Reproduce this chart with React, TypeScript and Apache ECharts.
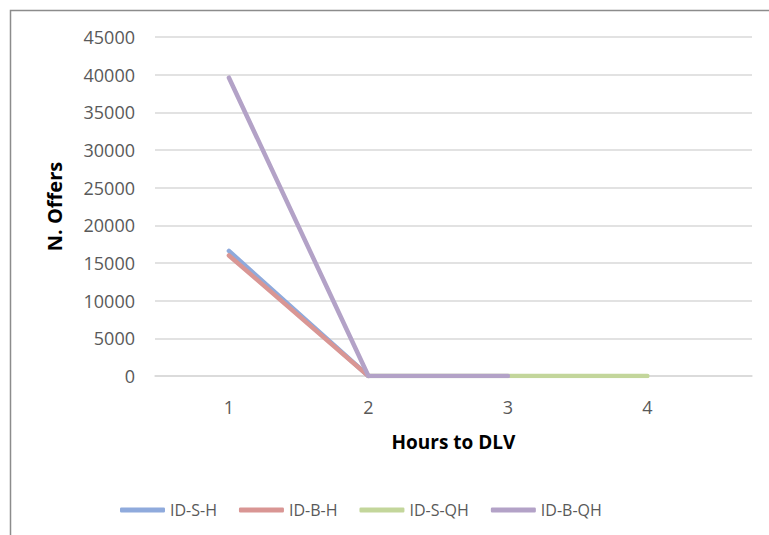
import React, { useEffect, useRef } from "react";
import * as echarts from "echarts";

const hours = [1, 2, 3, 4];
const seriesNames = ["ID-S-H", "ID-B-H", "ID-S-QH", "ID-B-QH"];
const idSH: (number | null)[] = [16600, 0, null, null];
const idBH: (number | null)[] = [16000, 0, null, null];
const idSQH: (number | null)[] = [null, 0, 0, 0];
const idBQH: (number | null)[] = [39600, 0, 0, null];
const colors = ["#8FAADC", "#D99694", "#C3D69B", "#B3A2C7"];

const toPairs = (vals: (number | null)[]) =>
  hours.map((h, i) => [h, vals[i] === null ? "-" : vals[i]]);

export default function App() {
  const ref = useRef<HTMLDivElement>(null);
  useEffect(() => {
    if (!ref.current) return;
    const chart = echarts.init(ref.current, null, { renderer: "svg" });
    const all = [idSH, idBH, idSQH, idBQH];
    chart.setOption({
      animation: false,
      backgroundColor: "#ffffff",
      textStyle: { fontFamily: "Open Sans" },
      graphic: [
        {
          type: "rect",
          shape: { x: 10.5, y: 10.5, width: 800, height: 600 },
          style: { fill: "none", stroke: "#8c8c8c", lineWidth: 1.5 },
          silent: true,
        },
      ],
      grid: { left: 155, right: 17, top: 37, bottom: 535 - 376, containLabel: false },
      xAxis: {
        type: "value",
        min: 0.47,
        max: 4.75,
        name: "Hours to DLV",
        nameLocation: "middle",
        nameGap: 56,
        nameTextStyle: { fontFamily: "Open Sans", fontWeight: "bold", fontSize: 19, color: "#000" },
        axisLine: { show: true, lineStyle: { color: "#d9d9d9", width: 1.5 } },
        axisTick: { show: false },
        splitLine: { show: false },
        axisLabel: {
          customValues: hours,
          color: "#595959",
          fontSize: 18,
          margin: 22,
          fontFamily: "Open Sans",
        },
      },
      yAxis: {
        type: "value",
        min: 0,
        max: 45000,
        interval: 5000,
        name: "N. Offers",
        nameLocation: "middle",
        nameGap: 91,
        nameRotate: 90,
        nameTextStyle: { fontFamily: "Open Sans", fontWeight: "bold", fontSize: 20, color: "#000" },
        axisLine: { show: false },
        axisTick: { show: false },
        splitLine: { lineStyle: { color: "#d9d9d9", width: 1.5 } },
        axisLabel: {
          color: "#595959",
          fontSize: 18,
          margin: 20,
          fontFamily: "Open Sans",
          formatter: (v: number) => String(v),
        },
      },
      legend: {
        left: 115,
        top: 497,
        itemWidth: 45,
        itemHeight: 5,
        itemGap: 22,
        icon: "roundRect",
        textStyle: { color: "#595959", fontSize: 16, fontFamily: "Open Sans" },
        data: seriesNames,
      },
      series: seriesNames.map((name, i) => ({
        name,
        type: "line",
        data: toPairs(all[i]),
        symbol: "none",
        color: colors[i],
        lineStyle: { width: 4.5, color: colors[i], cap: "round", join: "round" },
        connectNulls: false,
      })),
    });
    return () => chart.dispose();
  }, []);
  return (
    <div
      ref={ref}
      style={{ position: "fixed", left: 0, top: 0, width: 769, height: 535 }}
    />
  );
}
